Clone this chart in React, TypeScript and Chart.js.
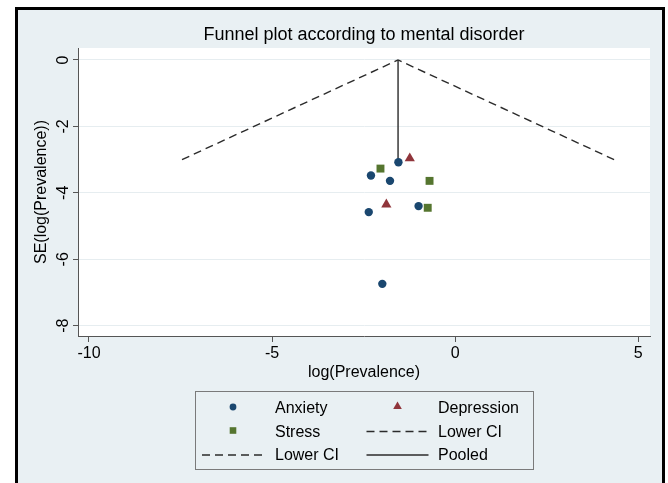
import React, { useEffect, useRef } from "react";
import { Chart, registerables } from "chart.js";

Chart.register(...registerables);

// ---- data ----
const chartTitle = "Funnel plot according to mental disorder";
const xTitle = "log(Prevalence)";
const yTitle = "SE(log(Prevalence))";

const anxietyX = [-1.55, -2.3, -1.78, -1.0, -2.36, -1.99];
const anxietyY = [-3.08, -3.48, -3.64, -4.4, -4.58, -6.74];

const depressionX = [-1.24, -1.88];
const depressionY = [-2.96, -4.35];

const stressX = [-2.04, -0.7, -0.75];
const stressY = [-3.27, -3.64, -4.45];

const lowerCIX = [-7.46, -1.56];
const upperCIX = [4.34, -1.56];
const ciY = [-3, 0];

const pooledX = [-1.56, -1.56];
const pooledY = [0, -3];

const xTicks = [-10, -5, 0, 5];
const yTicks = [0, -2, -4, -6, -8];

const seriesLabels = ["Anxiety", "Depression", "Stress", "Lower CI", "Lower CI", "Pooled"];

const FONT = "'Liberation Sans', Arial, Helvetica, sans-serif";
const BG = "#e9f0f3";
const NAVY = "#1a476f";
const MAROON = "#90353b";
const GREEN = "#55752f";
const LINE = "#2b2b2b";

const zip = (xs: number[], ys: number[]) => xs.map((x, i) => ({ x, y: ys[i] }));

const framePlugin = {
  id: "frame",
  beforeDraw(chart: any) {
    const { ctx, width, height, chartArea } = chart;
    ctx.save();
    ctx.fillStyle = "#ffffff";
    ctx.fillRect(0, 0, width, height);
    ctx.fillStyle = BG;
    ctx.fillRect(16.5, 8.5, 647, 600);
    ctx.lineWidth = 3;
    ctx.strokeStyle = "#000";
    ctx.strokeRect(16.5, 8.5, 647, 600);
    ctx.fillStyle = "#ffffff";
    ctx.fillRect(chartArea.left, chartArea.top, chartArea.right - chartArea.left, chartArea.bottom - chartArea.top);
    ctx.restore();
  },
  afterDraw(chart: any) {
    const { ctx, chartArea } = chart;
    ctx.save();
    ctx.fillStyle = "#000";
    ctx.font = `18px ${FONT}`;
    ctx.textAlign = "center";
    ctx.textBaseline = "middle";
    ctx.fillText(chartTitle, (chartArea.left + chartArea.right) / 2, 35);
    ctx.restore();
  },
};

const legendPlugin = {
  id: "stataLegend",
  afterDraw(chart: any) {
    const { ctx } = chart;
    const box = { left: 195.5, top: 391.5, width: 338, height: 78 };
    ctx.save();
    ctx.strokeStyle = "#7a7a7a";
    ctx.lineWidth = 1;
    ctx.strokeRect(box.left, box.top, box.width, box.height);
    const colSym = [233, 397.5];
    const colText = [275, 438];
    const rows = [408, 431.5, 455];
    ctx.font = `16px ${FONT}`;
    ctx.textBaseline = "middle";
    ctx.textAlign = "left";
    chart.data.datasets.forEach((ds: any, i: number) => {
      const col = i % 2;
      const row = Math.floor(i / 2);
      const cx = colSym[col];
      const cy = rows[row];
      if (ds.showLine) {
        ctx.save();
        ctx.strokeStyle = ds.borderColor;
        ctx.lineWidth = ds.borderWidth;
        ctx.setLineDash(ds.borderDash || []);
        ctx.beginPath();
        ctx.moveTo(cx - 31, cy);
        ctx.lineTo(cx + 31, cy);
        ctx.stroke();
        ctx.restore();
      } else {
        ctx.save();
        ctx.fillStyle = ds.backgroundColor;
        const style = ds.pointStyle;
        ctx.beginPath();
        if (style === "circle") {
          ctx.arc(cx, cy - 1, 3.4, 0, Math.PI * 2);
        } else if (style === "rect") {
          ctx.rect(cx - 3.3, cy - 4.3, 6.6, 6.6);
        } else {
          const r = 5;
          const ty = cy - 1.5;
          ctx.moveTo(cx, ty - r);
          ctx.lineTo(cx + r * 0.866, ty + r * 0.5);
          ctx.lineTo(cx - r * 0.866, ty + r * 0.5);
          ctx.closePath();
        }
        ctx.fill();
        ctx.restore();
      }
      ctx.fillStyle = "#000";
      ctx.fillText(ds.label, colText[col], cy + 1);
    });
    ctx.restore();
  },
};

export default function App() {
  const ref = useRef<HTMLCanvasElement | null>(null);

  useEffect(() => {
    if (!ref.current) return;
    const pointDs = (label: string, xs: number[], ys: number[], color: string, style: string, r: number) => ({
      label,
      data: zip(xs, ys),
      backgroundColor: color,
      borderColor: color,
      borderWidth: 0,
      pointStyle: style,
      pointRadius: r,
      pointHoverRadius: r,
      showLine: false,
    });
    const lineDs = (label: string, xs: number[], ys: number[], dash: number[]) => ({
      label,
      data: zip(xs, ys),
      borderColor: LINE,
      backgroundColor: LINE,
      borderWidth: 1.4,
      borderDash: dash,
      pointRadius: 0,
      pointHoverRadius: 0,
      showLine: true,
      fill: false,
    });

    const chart = new Chart(ref.current, {
      type: "scatter",
      data: {
        datasets: [
          pointDs(seriesLabels[0], anxietyX, anxietyY, NAVY, "circle", 4.2),
          pointDs(seriesLabels[1], depressionX, depressionY, MAROON, "triangle", 5.9),
          pointDs(seriesLabels[2], stressX, stressY, GREEN, "rect", 5.6),
          lineDs(seriesLabels[3], lowerCIX, ciY, [8, 5]),
          lineDs(seriesLabels[4], upperCIX, ciY, [8, 5]),
          lineDs(seriesLabels[5], pooledX, pooledY, []),
        ] as any,
      },
      options: {
        responsive: false,
        animation: false,
        devicePixelRatio: 1,
        layout: { padding: { top: 48, left: 18, right: 18, bottom: 97 } },
        plugins: {
          legend: { display: false },
          tooltip: { enabled: false },
          title: { display: false },
        },
        scales: {
          x: {
            type: "linear",
            min: -10.3,
            max: 5.32,
            afterBuildTicks: (s: any) => {
              s.ticks = xTicks.map((v) => ({ value: v }));
            },
            afterFit: (s: any) => {
              s.height = 50;
            },
            ticks: {
              color: "#000",
              font: { family: FONT, size: 16 },
              padding: 2,
              maxRotation: 0,
              minRotation: 0,
              callback: (v: any) => String(v),
            },
            grid: { drawOnChartArea: false, drawTicks: true, tickLength: 6, tickColor: "#555", lineWidth: 1 },
            border: { display: true, color: "#555", width: 1 },
            title: {
              display: true,
              text: xTitle,
              color: "#000",
              font: { family: FONT, size: 16, lineHeight: 1.2 },
              padding: { top: 0, bottom: 3.4 },
            },
          },
          y: {
            type: "linear",
            min: -8.31,
            max: 0.36,
            afterBuildTicks: (s: any) => {
              s.ticks = yTicks.map((v) => ({ value: v }));
            },
            afterFit: (s: any) => {
              s.width = 60;
            },
            ticks: {
              color: "#000",
              font: { family: FONT, size: 16 },
              minRotation: 90,
              maxRotation: 90,
              crossAlign: "center",
              padding: 2,
              callback: (v: any) => String(v),
            },
            grid: { color: "#e6edf0", tickColor: "#555", tickLength: 5, lineWidth: 1 },
            border: { display: true, color: "#555", width: 1 },
            title: {
              display: true,
              text: yTitle,
              color: "#000",
              font: { family: FONT, size: 16, lineHeight: 1.2 },
              padding: { top: 13.5, bottom: 0 },
            },
          },
        },
      },
      plugins: [framePlugin, legendPlugin],
    });
    return () => chart.destroy();
  }, []);

  return (
    <div style={{ position: "fixed", left: 0, top: 0, width: 668, height: 483, background: "#fff" }}>
      <canvas ref={ref} width={668} height={483} style={{ display: "block", width: 668, height: 483 }} />
    </div>
  );
}
